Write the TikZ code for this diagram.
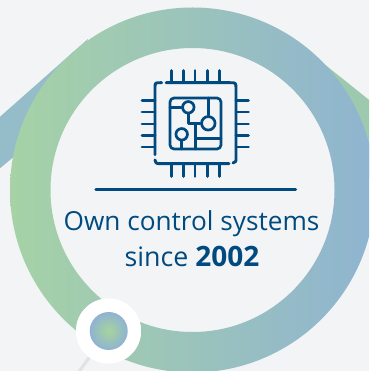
\documentclass[tikz,border=0pt]{standalone}
\usepackage{fontspec}
\setmainfont{Open Sans}
\definecolor{bgc}{HTML}{F3F4F6}
\definecolor{navy}{HTML}{004A7F}
\definecolor{ringg}{HTML}{A6D2A6}
\definecolor{ringb}{HTML}{8FB4D1}
\definecolor{bandb}{HTML}{94BCC9}
\definecolor{bandg}{HTML}{9DC9AE}
\definecolor{dotg}{HTML}{A6D49C}
\definecolor{dotb}{HTML}{8FB3D2}
\definecolor{stem}{HTML}{E2E3E4}
\tikzset{
  chipline/.style={draw=navy,line width=2.9pt,line cap=round,line join=round},
  fine/.style={draw=navy,line width=2.7pt,line cap=round,line join=round},
  caption/.style={text=navy,inner sep=0pt,anchor=base,font=\fontsize{26.2}{30}\selectfont},
}
\begin{document}
\begin{tikzpicture}[x=1pt,y=-1pt]
\useasboundingbox (0,0) rectangle (369,371);
\clip (0,0) rectangle (369,371);
\fill[bgc] (0,0) rectangle (369,371);
% bands behind the ring
\fill[bandb] (-2,118.5) -- (88,39) -- (60,118) -- (-2,170) -- cycle;
\fill[bandg] (296,41.5) -- (371,101.5) -- (371,180) -- (300,110) -- cycle;
\fill[bgc] (192.5,190) circle[radius=150pt];
% ring
\shade[even odd rule,left color=ringg,right color=ringb]
  (192.5,190) circle[radius=182.5pt] (192.5,190) circle[radius=142pt];
% lower node with its stem
\coordinate (stemend) at (78,373);
\node[circle,fill=white,minimum size=65pt,inner sep=0pt] (dotouter) at (108.5,331) {};
\draw[stem,line width=3.2pt] (dotouter) -- (stemend);
\node[circle,fill=white,minimum size=65pt,inner sep=0pt] at (108.5,331) {};
\shade[inner color=dotg,outer color=dotb] (108.7,331) circle[radius=19pt];
% chip: outer frame
\draw[chipline] (161.7,82.7) -- (160.5,82.7) .. controls (155,82.7) .. (155,88) -- (155,154.7);
\draw[chipline] (166,82.7) -- (230,82.7) .. controls (236,82.7) .. (236,89) -- (236,157) .. controls (236,162) .. (233,163);
\draw[chipline] (155,160) .. controls (156,163.7) .. (162,163.7) -- (229,163.7);
% chip: pins
\foreach \px in {171.7,183.3,195,207.3,219.3}{
  \draw[chipline] (\px,70.5) -- (\px,82);
  \draw[chipline] (\px,164) -- (\px,176.5);
}
\foreach \py in {100.3,112,124,135.5,147}{
  \draw[chipline] (142,\py) -- (155,\py);
  \draw[chipline] (236,\py) -- (248.5,\py);
}
% chip: die
\draw[fine,rounded corners=4pt] (170,98) rectangle (221,149);
% chip: traces
\node[circle,draw=navy,line width=2.7pt,minimum size=11.5pt,inner sep=0pt] (ca) at (188.3,107.3) {};
\node[circle,draw=navy,line width=2.7pt,minimum size=13.5pt,inner sep=0pt] (cb) at (208.3,123.3) {};
\node[circle,draw=navy,line width=2.7pt,minimum size=11.5pt,inner sep=0pt] (cc) at (181.7,134.3) {};
\draw[fine] (170,107.3) -- (ca.west);
\draw[fine] (ca.south) -- (188.3,123.3) -- (cb.west);
\draw[fine] (208.3,98) -- (cb.north);
\draw[fine] (195.7,123.3) -- (195.7,149);
\draw[fine] (195.7,138.3) -- (221,138.3);
\draw[fine] (cc.south) -- (181.7,149);
% rule
\coordinate (rulea) at (96,189.7);
\coordinate (ruleb) at (295.5,189.7);
\draw[navy,line width=3.5pt,line cap=round] (rulea) -- (ruleb);
% caption
\node[caption] (lineone) at (191.5,230) {Own control systems};
\node[caption,font=\fontsize{26.8}{30}\selectfont] (linetwo) at (192,266) {since {\fontsize{28}{30}\selectfont\bfseries 2002}};
\end{tikzpicture}
\end{document}
